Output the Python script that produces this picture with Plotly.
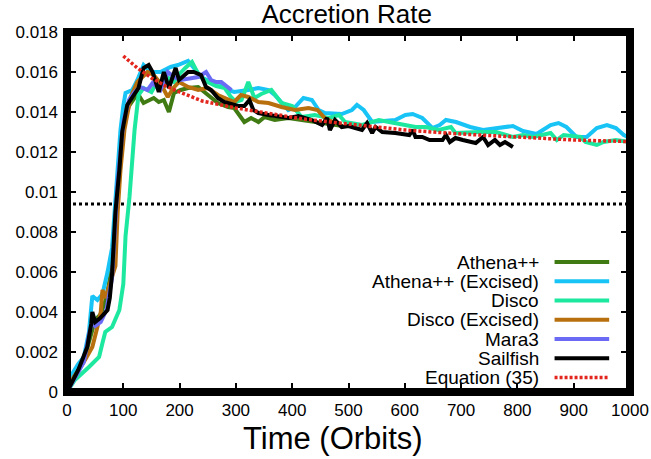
import plotly.graph_objects as go

# ---------------- data ----------------
athena_t = [0,10,20,30,40,50,60,70,80,90,100,110,120,125,136,145,154,163,172,181,
            190,202,215,233,250,268,286,297,315,327,340,351,369,393,417,440,453,470,490]
athena_v = [0,0.0006,0.0011,0.0016,0.0026,0.0036,0.0039,0.0047,0.0063,0.0102,
            0.0134,0.0143,0.0147,0.01495,0.01445,0.0146,0.0147,0.0145,0.0146,0.0140,
            0.01495,0.0151,0.0152,0.01525,0.01485,0.01445,0.01425,0.0142,0.0135,0.0137,
            0.0135,0.01375,0.0136,0.0137,0.0136,0.0135,0.01345,0.0134,0.0133]

athena_exc_t = [0,10,20,30,39,45,54,63,72,80,85,90,95,100,104,116,125,136,148,166,
                184,197,215,224,238,256,274,286,297,322,340,358,369,393,405,420,435,447,458,488,
                506,515,527,542,560,583,601,614,631,649,662,673,691,716,739,762,792,810,834,859,
                873,887,905,923,941,959,975,989,1000]
athena_exc_v = [0,0.00095,0.0014,0.00175,0.003,0.0048,0.0046,0.0049,0.006,0.0072,
                0.0092,0.0112,0.0131,0.0143,0.01495,0.0151,0.0156,0.01635,0.016,0.016,
                0.01625,0.01635,0.01655,0.01625,0.01575,0.0155,0.01545,0.0151,0.015,0.0151,
                0.0152,0.0151,0.01485,0.0141,0.01425,0.0147,0.0146,0.0141,0.01395,0.0139,
                0.0141,0.01435,0.0141,0.0135,0.01355,0.0136,0.01385,0.0139,0.0137,0.0132,
                0.01335,0.0136,0.0135,0.01325,0.0131,0.0132,0.0133,0.01305,0.0129,0.01335,
                0.01345,0.01325,0.01275,0.01275,0.0132,0.01335,0.0132,0.01285,0.0127]

disco_t = [0,14,39,57,63,68,80,93,100,104,111,116,120,127,136,150,160,170,180,190,
           200,210,222,235,250,265,280,290,300,310,322,333,345,363,381,400,417,440,465,483,
           494,524,554,572,596,619,637,660,682,690,733,762,792,810,828,859,870,882,912,921,
           941,953,975,1000]
disco_v = [0,0.0006,0.00125,0.00175,0.00245,0.003,0.00325,0.0041,0.0054,0.0078,
           0.00975,0.01175,0.0131,0.01485,0.0152,0.0150,0.0155,0.0152,0.0157,0.0155,
           0.0159,0.0162,0.0165,0.0158,0.0155,0.0153,0.0152,0.0148,0.0145,0.0146,
           0.0155,0.0147,0.0149,0.0151,0.01445,0.0143,0.01375,0.01385,0.0137,0.01385,
           0.0135,0.01335,0.0136,0.0135,0.01335,0.01325,0.01325,0.0131,0.01325,0.01295,
           0.013,0.013,0.01275,0.01285,0.01275,0.01295,0.0126,0.01285,0.01275,0.0125,
           0.01235,0.0125,0.0126,0.0125]

disco_exc_t = [0,12,32,45,54,60,63,68,75,86,90,95,102,113,125,143,154,166,179,189,
               199,215,233,250,268,286,297,309,322,340,358,381,405,429,445,458,476]
disco_exc_v = [0,0.00075,0.0016,0.00225,0.00325,0.004,0.0051,0.0047,0.0053,0.0063,
               0.009,0.0111,0.0131,0.01475,0.0155,0.016,0.01585,0.01545,0.01475,0.0152,
               0.0155,0.01525,0.0151,0.0152,0.01485,0.0146,0.0145,0.01485,0.01475,0.0145,
               0.01445,0.01425,0.0141,0.0142,0.0141,0.0137,0.01345]

mara_t = [0,10,20,30,40,45,50,60,70,80,90,100,110,120,130,143,152,166,179,190,
          202,220,233,247,256,265,274,292]
mara_v = [0,0.0005,0.001,0.0015,0.0030,0.0035,0.0033,0.0035,0.0041,0.0057,
          0.0105,0.0135,0.0146,0.015,0.01525,0.0151,0.01545,0.0151,0.016,0.01575,
          0.0156,0.0157,0.01575,0.016,0.0156,0.0155,0.0155,0.0151]

sail_t = [0,5,10,20,27,36,43,45,50,59,72,76,80,86,93,98,107,116,127,136,
          145,152,163,172,181,193,199,215,225,238,247,256,268,279,292,304,315,324,331,340,
          358,376,394,411,422,435,453,462,467,476,488,500,512,524,533,542,548,560,583,608,
          614,619,631,644,667,673,680,690,703,726,739,748,760,769,778,792]
sail_v = [0,0.00025,0.0005,0.0011,0.0016,0.00225,0.0034,0.0040,0.0035,0.0037,
          0.0041,0.0047,0.0059,0.009,0.0111,0.0130,0.01435,0.0147,0.0152,0.0162,
          0.01635,0.016,0.015,0.016,0.0152,0.0162,0.0156,0.016,0.016,0.01585,
          0.01525,0.0151,0.0147,0.0145,0.0144,0.0143,0.0143,0.0146,0.0141,0.01395,
          0.01385,0.01375,0.0137,0.0138,0.0137,0.0136,0.01335,0.0137,0.0131,0.0136,
          0.01325,0.0133,0.0132,0.0131,0.01345,0.01295,0.01325,0.013,0.01295,0.01285,
          0.0131,0.01275,0.01275,0.0126,0.0126,0.01285,0.0125,0.0127,0.0126,0.01245,
          0.01275,0.01235,0.0126,0.01235,0.0125,0.01225]

eq_t = [100,125,150,175,200,240,300,370,420,500,600,700,800,900,1000]
eq_v = [0.0168,0.0162,0.0157,0.0153,0.0150,0.01455,0.0142,0.0139,0.01365,0.0134,
        0.0131,0.0129,0.01275,0.0126,0.01252]

ref_level = 0.0094          # horizontal dotted line
x_ticks = list(range(0, 1001, 100))
y_ticks = [0, 0.002, 0.004, 0.006, 0.008, 0.01, 0.012, 0.014, 0.016, 0.018]
y_tick_text = ["0", "0.002", "0.004", "0.006", "0.008", "0.01", "0.012", "0.014", "0.016", "0.018"]

names = ["Athena++", "Athena++ (Excised)", "Disco", "Disco (Excised)", "Mara3", "Sailfish", "Equation (35)"]
colors = ["#3f7b12", "#17c4f5", "#1de8a0", "#b8700e", "#6a6af5", "#000000", "#e3261d"]
series = [(athena_t, athena_v), (athena_exc_t, athena_exc_v), (disco_t, disco_v),
          (disco_exc_t, disco_exc_v), (mara_t, mara_v), (sail_t, sail_v), (eq_t, eq_v)]

FONT = "Liberation Sans, Arial, Helvetica, sans-serif"

fig = go.Figure()

fig.add_trace(go.Scatter(x=[0, 1000], y=[ref_level, ref_level], mode="lines",
                         line=dict(color="black", width=3, dash="3px,3px"),
                         showlegend=False, hoverinfo="skip"))

for i, ((t, v), name, col) in enumerate(zip(series, names, colors)):
    if name.startswith("Equation"):
        line = dict(color=col, width=3.5, dash="3px,2px")
    else:
        line = dict(color=col, width=4)
    fig.add_trace(go.Scatter(x=t, y=v, mode="lines", name=name, line=line, showlegend=False))

# custom legend (text right-aligned, sample to the right)
shapes = []
annotations = []
for i, (name, col) in enumerate(zip(names, colors)):
    yp = 0.361 - i * 0.0535
    annotations.append(dict(x=0.842, y=yp, xref="paper", yref="paper", text=name,
                            showarrow=False, xanchor="right", yanchor="middle",
                            font=dict(family=FONT, size=19, color="black")))
    if name.startswith("Equation"):
        ln = dict(color=col, width=3.5, dash="3px,2px")
    else:
        ln = dict(color=col, width=4)
    shapes.append(dict(type="line", xref="paper", yref="paper", x0=0.866, x1=0.963,
                       y0=yp, y1=yp, line=ln))

# x-axis title
annotations.append(dict(x=0.473, y=-0.128, xref="paper", yref="paper", text="Time (Orbits)",
                        showarrow=False, xanchor="center", yanchor="middle",
                        font=dict(family=FONT, size=31, color="black")))

# heavy frame
shapes.append(dict(type="rect", xref="paper", yref="paper", x0=0, x1=1, y0=0, y1=1,
                   line=dict(color="black", width=8), layer="above"))

fig.update_layout(
    width=651, height=459,
    margin=dict(l=67, r=21, t=32, b=67, autoexpand=False),
    paper_bgcolor="white", plot_bgcolor="white",
    font=dict(family=FONT, size=17, color="black"),
    title=dict(text="Accretion Rate", x=0.5325, xanchor="center", y=0.97, yanchor="middle",
               font=dict(family=FONT, size=26, color="black")),
    shapes=shapes, annotations=annotations,
    showlegend=False,
)
fig.update_xaxes(range=[0, 1000], tickvals=x_ticks, ticks="inside", ticklen=9, tickwidth=1.5,
                 tickcolor="black", mirror="ticks", showgrid=False, zeroline=False, showline=False,
                 tickfont=dict(family=FONT, size=17), ticklabelstandoff=6, automargin=False)
fig.update_yaxes(range=[0, 0.018], tickvals=y_ticks, ticktext=y_tick_text, ticks="inside", ticklen=9,
                 tickwidth=1.5, tickcolor="black", mirror="ticks", showgrid=False, zeroline=False,
                 showline=False, tickfont=dict(family=FONT, size=17), ticklabelstandoff=8,
                 automargin=False)

fig.write_html("out.html", config={"displayModeBar": False},
               post_script="document.body.style.margin='0';")
